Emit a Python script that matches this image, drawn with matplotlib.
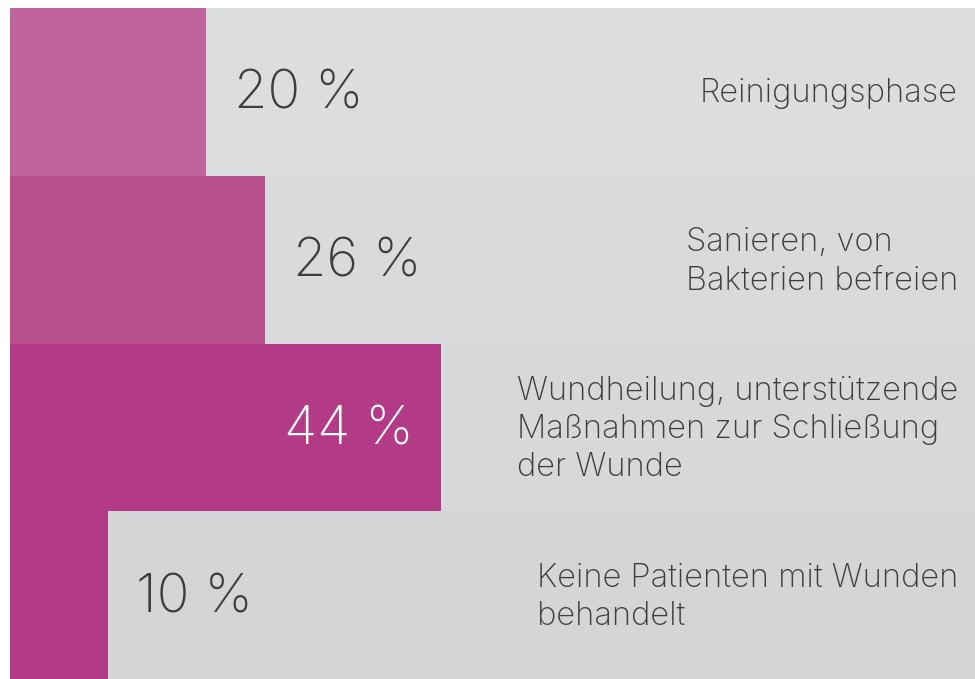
import matplotlib
matplotlib.use("Agg")
import matplotlib.pyplot as plt
from matplotlib import font_manager

categories = [
    "Reinigungsphase",
    "Sanieren, von\nBakterien befreien",
    "Wundheilung, unterstützende\nMaßnahmen zur Schließung\nder Wunde",
    "Keine Patienten mit Wunden\nbehandelt",
]
values = [20, 26, 44, 10]
bar_colors = ["#bf649d", "#b8508e", "#b33a87", "#b33a87"]
row_colors = ["#dcdddf", "#d9dadc", "#d7d8da", "#d4d5d7"]

names = {f.name for f in font_manager.fontManager.ttflist}
family = "Inter" if "Inter" in names else "DejaVu Sans"

fig = plt.figure(figsize=(9.75, 6.79), dpi=100)
ax = fig.add_axes([0, 0, 1, 1])
px_per_unit = 9.8
x_left = -10 / px_per_unit
x_right = (975 - 10) / px_per_unit
ax.set_xlim(x_left, x_right)
row_px = 671 / 4
ax.set_ylim(3.5, -0.5 - 8 / row_px)
ax.axis("off")

ys = list(range(len(values)))
ax.barh(ys, [x_right] * len(values), left=0, height=1.0, color=row_colors, linewidth=0)
ax.barh(ys, values, left=0, height=1.0, color=bar_colors, linewidth=0)

text_color = "#3d3d3f"
vmax = max(values)
for y, v, lab in zip(ys, values, categories):
    if v == vmax:
        ax.annotate(f"{v} %", xy=(v, y), xytext=(-28, -3), textcoords="offset pixels",
                    ha="right", va="center", color="white", fontsize=39,
                    family=family, fontweight="light")
    else:
        ax.annotate(f"{v} %", xy=(v, y), xytext=(28, -3), textcoords="offset pixels",
                    ha="left", va="center", color=text_color, fontsize=39,
                    family=family, fontweight="light")
    ax.annotate(lab, xy=(x_right, y), xytext=(-17, -2), textcoords="offset pixels",
                ha="right", va="center", multialignment="left", color=text_color,
                fontsize=23.5, family=family, fontweight="light", linespacing=1.3)

fig.savefig("out.png", dpi=100, facecolor="white")
